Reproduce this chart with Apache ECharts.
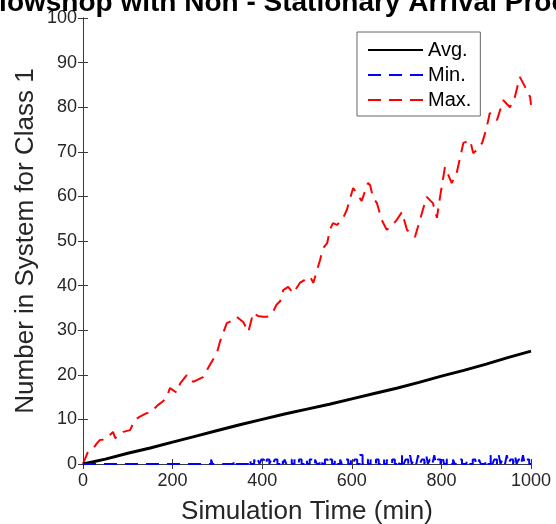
<!DOCTYPE html>
<html>
<head>
<meta charset="utf-8">
<script src="https://cdn.jsdelivr.net/npm/echarts@6/dist/echarts.min.js"></script>
<style>
  html, body { margin: 0; padding: 0; background: #fff; }
  #chart { width: 556px; height: 524px; }
</style>
</head>
<body>
<div id="chart"></div>
<script>
// values
const maxTimes = [0,10,20,30,38,50,60,67,72,80,90,105,116,125,142,150,160,167,178,187,194,
  209,217,232,246,254,268,283,299,306,321,330,343,358,369,373,380,390,402,411,424,432,440,
  447,458,469,484,498,507,514,529,536,545,551,558,567,580,589,603,607,622,636,641,647,656,
  667,678,690,700,712,723,741,752,767,781,790,797,808,823,834,849,864,871,880,891,900,908,
  924,938,953,964,975,987,998,1000];
const maxValues = [0,2.5,3,4.5,5.4,5.5,6.5,7.2,5.8,6.5,7.2,7.6,9.9,10.5,11.4,11.5,12.5,13.2,14,15,17,
  16,18.1,20,18.4,18.8,19.5,22.2,24.9,27.5,31.6,32,33,31.8,29.6,30,33.9,33.2,33,33,34.1,35.7,36.5,
  39,39.7,38.3,40.6,41.5,42,40.6,45.7,48.4,49.5,52.5,54,53.6,55,57,61.9,62,59,63,62.5,59.9,58.5,
  54.7,52.5,53.5,54.7,56.5,52.5,50.9,54.7,59.9,58.5,55.2,59.9,66.6,63,65.2,72,72.6,69.7,70.5,72,75,78.7,
  77.1,81.6,80,82.3,86.8,84.5,82.3,80.5];

const avgTimes = [0,50,100,150,200,250,300,350,400,450,500,550,600,650,700,750,800,850,900,950,1000];
const avgValues = [0,1.1,2.4,3.6,4.9,6.2,7.5,8.8,10,11.2,12.3,13.4,14.6,15.8,17,18.3,19.7,21,22.4,23.9,25.3];

// min series: [start, end, level] pulses above zero
const minPulses = [[286,289,1],[336,340,1],[368,374,1],[382,386,1],[390,394,1],[398,404,1],[410,416,1],
  [420,424,1],[428,434,1],[440,446,1],[450,454,1],[458,466,1],[472,476,1],[482,488,1],[494,500,1],
  [506,512,1],[518,522,1],[528,534,1],[540,546,1],[550,556,1],[562,568,1],[574,578,1],[586,592,1],
  [598,602,1],[606,612,1],[618,624,2],[630,636,1],[642,646,1],[654,660,1],[666,672,1],[678,682,1],
  [690,696,1],[702,706,1],[712,716,2],[720,726,1],[730,734,2],[738,744,1],[748,752,2],[756,762,1],
  [766,770,2],[774,780,1],[784,788,2],[792,798,1],[802,806,2],[812,818,1],[826,830,1],[840,846,1],
  [856,860,1],[870,876,1],[884,888,1],[898,902,1],[910,914,2],[918,924,1],[928,932,2],[936,942,1],
  [946,950,2],[954,960,1],[964,968,2],[972,978,1],[982,986,2],[990,996,1]];

const seriesNames = ['Avg.', 'Min.', 'Max.'];
const titleText = 'Flowshop with Non - Stationary Arrival Process';

const zip = (xs, ys) => xs.map((x, i) => [x, ys[i]]);

const minData = [[0, 0]];
minPulses.forEach(p => { minData.push([p[0], p[2]]); minData.push([p[1], 0]); });
minData.push([1000, 0]);

const font = 'Liberation Sans, Arial, sans-serif';
const frame = '#3a3a3a';

const chart = echarts.init(document.getElementById('chart'));
const option = {
  animation: false,
  textStyle: { fontFamily: font },
  title: {
    text: titleText,
    left: -23, top: -16,
    textStyle: { fontFamily: font, fontSize: 28, fontWeight: 'bold', color: '#000' }
  },
  grid: { left: 83, top: 18, right: 25, bottom: 60, containLabel: false, outerBoundsMode: 'none' },
  legend: {
    orient: 'vertical',
    left: 357, top: 32,
    padding: [8, 9, 6, 10],
    itemWidth: 55, itemHeight: 14, itemGap: 5,
    backgroundColor: '#fff',
    borderColor: '#666', borderWidth: 1, borderRadius: 0,
    itemStyle: { opacity: 0 },
    textStyle: { fontFamily: font, fontSize: 20, color: '#000' },
    data: seriesNames
  },
  xAxis: [{
    type: 'value', min: 0, max: 1000, interval: 200,
    name: 'Simulation Time (min)', nameLocation: 'middle', nameGap: 35,
    nameTextStyle: { fontFamily: font, fontSize: 26, color: '#262626' },
    axisLine: { onZero: false, lineStyle: { color: frame, width: 1 } },
    axisTick: { inside: true, length: 5, lineStyle: { color: frame } },
    axisLabel: { fontSize: 18, color: '#262626', margin: 8, formatter: v => String(v) },
    splitLine: { show: false }
  }, {
    type: 'value', min: 0, max: 1000, interval: 200, position: 'top',
    axisLine: { lineStyle: { color: frame, width: 1 } },
    axisTick: { inside: true, length: 5, lineStyle: { color: frame } },
    axisLabel: { show: false },
    splitLine: { show: false }
  }],
  yAxis: [{
    type: 'value', min: 0, max: 100, interval: 10,
    name: 'Number in System for Class 1', nameLocation: 'middle', nameGap: 44,
    nameMoveOverlap: false,
    nameTextStyle: { fontFamily: font, fontSize: 26, color: '#262626' },
    axisLine: { show: true, onZero: false, lineStyle: { color: frame, width: 1 } },
    axisTick: { show: true, inside: true, length: 5, lineStyle: { color: frame } },
    axisLabel: { fontSize: 18, color: '#262626', margin: 6 },
    splitLine: { show: false }
  }, {
    type: 'value', min: 0, max: 100, interval: 10, position: 'right',
    axisLine: { show: true, lineStyle: { color: frame, width: 1 } },
    axisTick: { show: true, inside: true, length: 5, lineStyle: { color: frame } },
    axisLabel: { show: false },
    splitLine: { show: false }
  }],
  series: [{
    name: 'Avg.', type: 'line', symbol: 'none', z: 3,
    data: zip(avgTimes, avgValues),
    lineStyle: { color: '#000', width: 3 }, itemStyle: { color: '#000' }
  }, {
    name: 'Min.', type: 'line', symbol: 'none', step: 'end', z: 4,
    data: minData,
    lineStyle: { color: '#0000ff', width: 2, type: [13, 8] }, itemStyle: { color: '#0000ff' }
  }, {
    name: 'Max.', type: 'line', symbol: 'none', z: 2,
    data: zip(maxTimes, maxValues),
    lineStyle: { color: '#ff0000', width: 2, type: [13, 8] }, itemStyle: { color: '#ff0000' }
  }]
};
chart.setOption(option);
</script>
</body>
</html>
